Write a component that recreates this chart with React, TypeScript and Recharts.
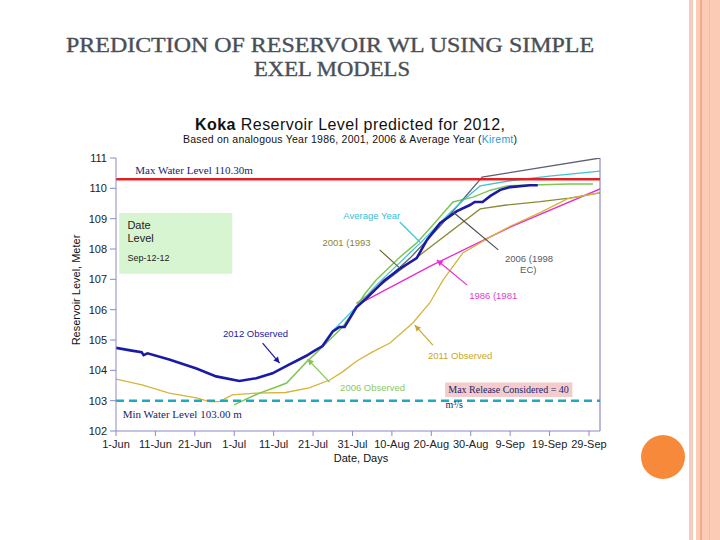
import React from 'react';
import { LineChart, Line, XAxis, YAxis, ReferenceLine, ReferenceDot, ReferenceArea } from 'recharts';

const SANS = '"Liberation Sans", Arial, sans-serif';
const SERIF = '"Liberation Serif", "Times New Roman", serif';

const dayTicks = [0, 10, 20, 30, 40, 50, 60, 70, 80, 90, 100, 110, 120];
const dayTickLabels = ['1-Jun', '11-Jun', '21-Jun', '1-Jul', '11-Jul', '21-Jul', '31-Jul', '10-Aug', '20-Aug', '30-Aug', '9-Sep', '19-Sep', '29-Sep'];
const levelTicks = [102, 103, 104, 105, 106, 107, 108, 109, 110, 111];
const dayMax = 122.8;
const maxLevel = 110.3;
const minLevel = 103.0;

const obs2012Days = [0, 4, 6.5, 7, 8, 13.5, 20.4, 25.4, 31.3, 35.6, 39.7, 43.3, 48.3, 50, 52.4, 55, 56.7, 58, 61, 63.6, 68, 72, 76.3, 78.9, 82.2, 86.5, 89.8, 91, 93, 95, 97.5, 100, 105, 107];
const obs2012Levels = [104.74, 104.65, 104.6, 104.5, 104.56, 104.36, 104.06, 103.8, 103.65, 103.74, 103.9, 104.15, 104.48, 104.62, 104.8, 105.28, 105.43, 105.43, 106.08, 106.38, 106.95, 107.35, 107.7, 108.3, 108.85, 109.25, 109.45, 109.55, 109.55, 109.75, 109.95, 110.04, 110.1, 110.1];

const avgYearDays = [55, 61, 66, 72, 78, 84.7, 88, 92.4, 100, 110, 122.8];
const avgYearLevels = [105.3, 106.1, 106.8, 107.55, 108.3, 109.19, 109.6, 110.08, 110.25, 110.4, 110.57];

const y2001Days = [61, 92.4, 99, 107.6, 115, 122.8];
const y2001Levels = [106.2, 109.32, 109.45, 109.56, 109.68, 109.85];

const y2006PredDays = [62, 74.6, 82.2, 92.9, 122.8];
const y2006PredLevels = [106.2, 107.7, 108.75, 110.37, 111.0];

const y1986Days = [61.8, 80, 100, 122.8];
const y1986Levels = [106.2, 107.45, 108.72, 109.98];

const obs2006Days = [30, 33, 36.4, 40, 43.3, 46, 48.3, 51, 53.4, 57.5, 60, 63, 66, 72, 76.3, 80.4, 85.5, 90.6, 95, 99.2, 108, 115, 121];
const obs2006Levels = [102.86, 103.05, 103.25, 103.42, 103.58, 103.95, 104.27, 104.6, 104.9, 105.43, 105.9, 106.5, 106.98, 107.73, 108.2, 108.79, 109.55, 109.71, 109.94, 110.08, 110.12, 110.14, 110.14];

const obs2011Days = [0, 6.6, 13.5, 20.4, 23.7, 26.2, 29.5, 35.6, 43, 49, 54.2, 57.5, 61, 65, 69.5, 75.3, 79.6, 83, 88, 95, 100, 107.6, 114.5, 122.5];
const obs2011Levels = [103.71, 103.52, 103.25, 103.09, 102.97, 102.97, 103.19, 103.25, 103.27, 103.42, 103.68, 103.95, 104.3, 104.6, 104.9, 105.56, 106.22, 106.98, 107.87, 108.4, 108.75, 109.2, 109.65, 109.85];

const toPts = (days: number[], levels: number[]) => days.map((day, i) => ({ day, level: levels[i] }));

const NAVY = '#1c1c6c';

const textShape = (value: string, color: string, size: number, family: string, anchor: string = 'middle', weight: string = 'normal') => (p: any) => {
  if (p == null || p.cx == null) return null;
  return (
    <text x={p.cx} y={p.cy} fill={color} fontSize={size} fontFamily={family} fontWeight={weight} textAnchor={anchor as any} dominantBaseline="central">
      {value}
    </text>
  );
};

const leader = (color: string, arrow: boolean) => (p: any) => {
  if (p == null || p.x1 == null) return null;
  const { x1, y1, x2, y2 } = p;
  const ang = Math.atan2(y2 - y1, x2 - x1);
  const L = 6, W = 3;
  const bx = x2 - L * Math.cos(ang), by = y2 - L * Math.sin(ang);
  const pts = `${x2},${y2} ${bx + W * Math.sin(ang)},${by - W * Math.cos(ang)} ${bx - W * Math.sin(ang)},${by + W * Math.cos(ang)}`;
  return (
    <g>
      <line x1={x1} y1={y1} x2={x2} y2={y2} stroke={color} strokeWidth={1.2} />
      {arrow && <polygon points={pts} fill={color} />}
    </g>
  );
};

export default function App() {
  return (
    <div style={{ position: 'absolute', left: 0, top: 0, width: 720, height: 540, background: '#ffffff', overflow: 'hidden' }}>
      <svg width={720} height={540} style={{ position: 'absolute', left: 0, top: 0 }}>
        <rect x={689} y={0} width={4} height={540} fill="#f7cbbb" />
        <rect x={696} y={0} width={24} height={540} fill="#fbcbb6" />
        <rect x={700} y={0} width={2} height={540} fill="#f3a98c" />
        <rect x={709} y={0} width={1} height={540} fill="#f6bba4" />
        <circle cx={663} cy={457} r={22} fill="#f78a3a" />
      </svg>
      <div style={{ position: 'absolute', left: 0, top: 0 }}>
        <LineChart width={720} height={540} margin={{ top: 158, right: 120, bottom: 79, left: 56 }}>
          <XAxis
            type="number"
            dataKey="day"
            domain={[0, dayMax]}
            ticks={dayTicks}
            tickFormatter={(v: number) => dayTickLabels[dayTicks.indexOf(v)] ?? ''}
            height={30}
            stroke="#8a8ac6"
            tick={{ fill: '#222', fontSize: 11, fontFamily: SANS }}
            tickSize={5}
            tickMargin={4}
            allowDataOverflow
          />
          <YAxis
            type="number"
            domain={[102, 111]}
            ticks={levelTicks}
            width={60}
            stroke="#8a8ac6"
            tick={{ fill: '#222', fontSize: 11, fontFamily: SANS }}
            tickSize={6}
            tickMargin={3}
            allowDataOverflow
          />
          <ReferenceLine x={dayMax} stroke="#8a8ac6" strokeWidth={1.2} />

          <ReferenceArea x1={0.8} x2={29.5} y1={107.18} y2={109.19} fill="#d8f5d2" fillOpacity={1} stroke="none" />
          <ReferenceArea x1={83.5} x2={115.8} y1={103.12} y2={103.6} fill="#f5cccc" fillOpacity={1} stroke="none" />

          <Line data={toPts(y1986Days, y1986Levels)} dataKey="level" stroke="#e52cd0" strokeWidth={1.3} dot={false} isAnimationActive={false} />
          <Line data={toPts(y2001Days, y2001Levels)} dataKey="level" stroke="#8c8a34" strokeWidth={1.3} dot={false} isAnimationActive={false} />
          <Line data={toPts(obs2011Days, obs2011Levels)} dataKey="level" stroke="#d6b43a" strokeWidth={1.3} dot={false} isAnimationActive={false} />
          <Line data={toPts(obs2006Days, obs2006Levels)} dataKey="level" stroke="#80c454" strokeWidth={1.5} dot={false} isAnimationActive={false} />
          <Line data={toPts(y2006PredDays, y2006PredLevels)} dataKey="level" stroke="#5c6070" strokeWidth={1.3} dot={false} isAnimationActive={false} />
          <Line data={toPts(avgYearDays, avgYearLevels)} dataKey="level" stroke="#3cc4d4" strokeWidth={1.3} dot={false} isAnimationActive={false} />
          <Line data={toPts(obs2012Days, obs2012Levels)} dataKey="level" stroke="#1a1aa6" strokeWidth={2.6} dot={false} isAnimationActive={false} />

          <ReferenceLine y={maxLevel} stroke="#e02222" strokeWidth={2.5} />
          <ReferenceLine y={minLevel} stroke="#1fa8c2" strokeWidth={2.5} strokeDasharray="8 5" />

          <ReferenceLine segment={[{ x: 72, y: 108.89 }, { x: 77.1, y: 108.23 }]} shape={leader('#3cc4d4', false)} />
          <ReferenceLine segment={[{ x: 66.9, y: 107.97 }, { x: 72, y: 107.37 }]} shape={leader('#6a6a28', false)} />
          <ReferenceLine segment={[{ x: 97, y: 107.97 }, { x: 85.5, y: 109.22 }]} shape={leader('#4a4e5c', false)} />
          <ReferenceLine segment={[{ x: 89.1, y: 106.81 }, { x: 81.4, y: 107.64 }]} shape={leader('#e52cd0', true)} />
          <ReferenceLine segment={[{ x: 80.4, y: 104.83 }, { x: 75.8, y: 105.49 }]} shape={leader('#c9a52c', true)} />
          <ReferenceLine segment={[{ x: 54.2, y: 103.61 }, { x: 48.6, y: 104.37 }]} shape={leader('#80c454', true)} />
          <ReferenceLine segment={[{ x: 37.2, y: 104.9 }, { x: 41.5, y: 104.24 }]} shape={leader('#1a1aa6', true)} />

          <ReferenceDot x={19.8} y={110.6} r={0} shape={textShape('Max Water Level 110.30m', NAVY, 11, SERIF)} />
          <ReferenceDot x={16.8} y={102.56} r={0} shape={textShape('Min Water Level 103.00 m', NAVY, 11, SERIF)} />
          <ReferenceDot x={2.9} y={108.79} r={0} shape={textShape('Date', '#222', 11, SANS, 'start')} />
          <ReferenceDot x={2.9} y={108.36} r={0} shape={textShape('Level', '#222', 11, SANS, 'start')} />
          <ReferenceDot x={2.9} y={107.7} r={0} shape={textShape('Sep-12-12', '#222', 9, SANS, 'start')} />
          <ReferenceDot x={64.9} y={109.09} r={0} shape={textShape('Average Year', '#3cbcd2', 9.5, SANS)} />
          <ReferenceDot x={58.5} y={108.2} r={0} shape={textShape('2001 (1993', '#8a8830', 9.5, SANS)} />
          <ReferenceDot x={104.8} y={107.7} r={0} shape={textShape('2006 (1998', '#555a66', 9.5, SANS)} />
          <ReferenceDot x={104.6} y={107.31} r={0} shape={textShape('EC)', '#555a66', 9.5, SANS)} />
          <ReferenceDot x={95.7} y={106.48} r={0} shape={textShape('1986 (1981', '#e03ccc', 9.5, SANS)} />
          <ReferenceDot x={87.3} y={104.5} r={0} shape={textShape('2011 Observed', '#c9a52c', 9.5, SANS)} />
          <ReferenceDot x={65.1} y={103.42} r={0} shape={textShape('2006 Observed', '#8cc860', 9.5, SANS)} />
          <ReferenceDot x={35.4} y={105.23} r={0} shape={textShape('2012 Observed', '#1a1aa6', 9.5, SANS)} />
          <ReferenceDot x={99.6} y={103.36} r={0} shape={textShape('Max Release Considered = 40', NAVY, 10, SERIF)} />
          <ReferenceDot x={83.6} y={102.88} r={0} shape={textShape('m³/s', NAVY, 10, SERIF, 'start')} />
        </LineChart>
      </div>
      <svg width={720} height={540} style={{ position: 'absolute', left: 0, top: 0, pointerEvents: 'none' }}>
        <text x={330} y={52} textAnchor="middle" fontFamily={SERIF} fontSize={20} fill="#4a4f56" stroke="#4a4f56" strokeWidth={0.35} textLength={528} lengthAdjust="spacingAndGlyphs">PREDICTION OF RESERVOIR WL USING SIMPLE</text>
        <text x={332} y={76} textAnchor="middle" fontFamily={SERIF} fontSize={20} fill="#4a4f56" stroke="#4a4f56" strokeWidth={0.35} textLength={156} lengthAdjust="spacingAndGlyphs">EXEL MODELS</text>
        <text x={350} y={130} textAnchor="middle" fontFamily={SANS} fontSize={16} fill="#111" textLength={310} lengthAdjust="spacing">
          <tspan fontWeight="bold">Koka</tspan> Reservoir  Level  predicted for 2012,
        </text>
        <text x={350} y={143} textAnchor="middle" fontFamily={SANS} fontSize={10.5} fill="#111" textLength={334} lengthAdjust="spacing">
          Based on analogous Year  1986, 2001, 2006 &amp; Average Year (<tspan fill="#2a9ad0">Kiremt</tspan>)
        </text>
        <text x={80} y={290} textAnchor="middle" fontFamily={SANS} fontSize={11} fill="#111" transform="rotate(-90 80 290)">Reservoir Level, Meter</text>
        <text x={361} y={462} textAnchor="middle" fontFamily={SANS} fontSize={11} fill="#111">Date, Days</text>
      </svg>
    </div>
  );
}
